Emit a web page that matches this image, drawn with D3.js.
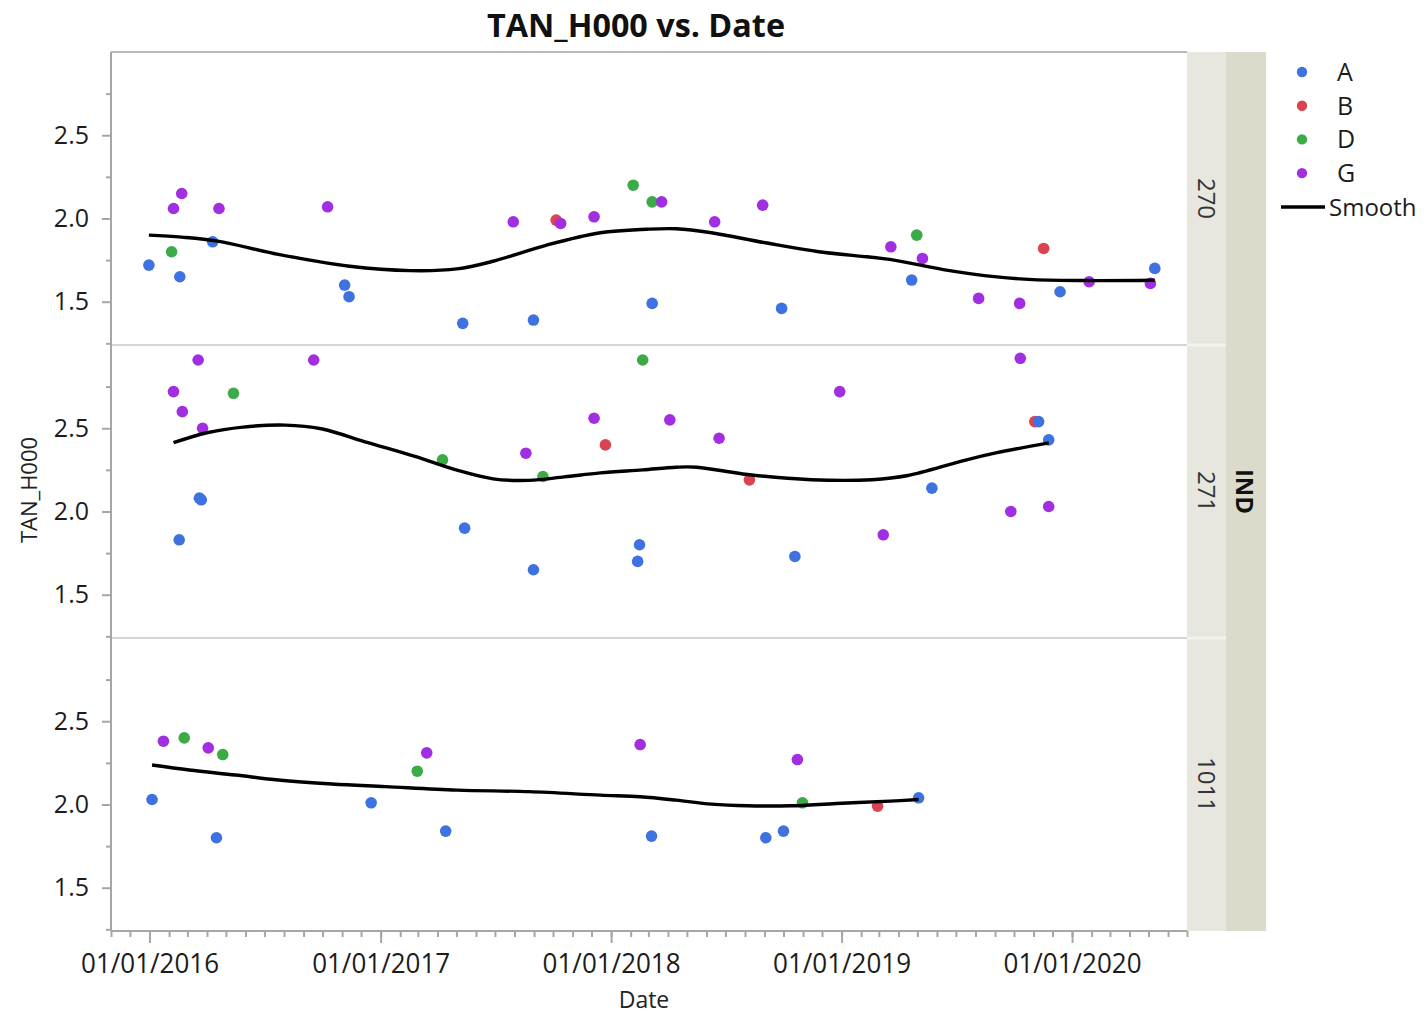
<!DOCTYPE html>
<html>
<head>
<meta charset="utf-8">
<script src="https://cdn.jsdelivr.net/npm/d3@7"></script>
<style>
  body { margin: 0; background: #fff; }
  svg text { font-family: "Open Sans", "Noto Sans", sans-serif; }
</style>
</head>
<body>
<svg id="chart" width="1427" height="1014"></svg>
<script>
// ---- data ----
const groups = ["A", "B", "D", "G"];
const groupColors = ["#3d72e0", "#da4450", "#3aab47", "#a22ee2"];
const panelLabels = ["270", "271", "1011"];
const outerLabel = "IND";
const yMajorTicks = [1.5, 2.0, 2.5];
const yMinorTicks = [1.25, 1.75, 2.25, 2.75];
const xDomain = ["2015-11-01", "2020-07-01"];

// [date, TAN_H000, group]
const points270 = [
  ["2015-12-31", 1.72, "A"], ["2016-02-08", 2.06, "G"], ["2016-02-21", 2.15, "G"],
  ["2016-02-05", 1.80, "D"], ["2016-02-18", 1.65, "A"], ["2016-04-10", 1.86, "A"],
  ["2016-04-20", 2.06, "G"], ["2016-10-09", 2.07, "G"], ["2016-11-05", 1.60, "A"],
  ["2016-11-12", 1.53, "A"], ["2017-05-11", 1.37, "A"], ["2017-08-31", 1.39, "A"],
  ["2017-07-30", 1.98, "G"], ["2017-10-06", 1.99, "B"], ["2017-10-13", 1.97, "G"],
  ["2017-12-05", 2.01, "G"], ["2018-02-05", 2.20, "D"], ["2018-03-07", 2.10, "D"],
  ["2018-03-07", 1.49, "A"], ["2018-03-22", 2.10, "G"], ["2018-06-14", 1.98, "G"],
  ["2018-08-29", 2.08, "G"], ["2018-09-28", 1.46, "A"], ["2019-03-20", 1.83, "G"],
  ["2019-04-30", 1.90, "D"], ["2019-05-09", 1.76, "G"], ["2019-04-22", 1.63, "A"],
  ["2019-08-06", 1.52, "G"], ["2019-10-10", 1.49, "G"], ["2019-11-17", 1.82, "B"],
  ["2019-12-13", 1.56, "A"], ["2020-01-28", 1.62, "G"], ["2020-05-11", 1.70, "A"],
  ["2020-05-04", 1.61, "G"]
];
const points271 = [
  ["2016-03-18", 2.91, "G"], ["2016-09-17", 2.91, "G"], ["2016-02-08", 2.72, "G"],
  ["2016-05-13", 2.71, "D"], ["2016-02-22", 2.60, "G"], ["2016-03-25", 2.50, "G"],
  ["2016-03-20", 2.08, "A"], ["2016-03-23", 2.07, "A"], ["2016-02-17", 1.83, "A"],
  ["2017-04-09", 2.31, "D"], ["2017-05-14", 1.90, "A"], ["2017-08-19", 2.35, "G"],
  ["2017-09-15", 2.21, "D"], ["2017-08-31", 1.65, "A"], ["2017-12-05", 2.56, "G"],
  ["2017-12-23", 2.40, "B"], ["2018-02-20", 2.91, "D"], ["2018-02-15", 1.80, "A"],
  ["2018-02-12", 1.70, "A"], ["2018-04-04", 2.55, "G"], ["2018-06-21", 2.44, "G"],
  ["2018-08-08", 2.19, "B"], ["2018-10-19", 1.73, "A"], ["2018-12-29", 2.72, "G"],
  ["2019-03-08", 1.86, "G"], ["2019-05-24", 2.14, "A"], ["2019-10-11", 2.92, "G"],
  ["2019-09-26", 2.00, "G"], ["2019-11-03", 2.54, "B"], ["2019-11-09", 2.54, "A"],
  ["2019-11-25", 2.43, "A"], ["2019-11-25", 2.03, "G"]
];
const points1011 = [
  ["2016-01-05", 2.03, "A"], ["2016-01-23", 2.38, "G"], ["2016-02-25", 2.40, "D"],
  ["2016-04-03", 2.34, "G"], ["2016-04-26", 2.30, "D"], ["2016-04-16", 1.80, "A"],
  ["2016-12-17", 2.01, "A"], ["2017-02-28", 2.20, "D"], ["2017-03-15", 2.31, "G"],
  ["2017-04-14", 1.84, "A"], ["2018-02-16", 2.36, "G"], ["2018-03-06", 1.81, "A"],
  ["2018-10-23", 2.27, "G"], ["2018-10-31", 2.01, "D"], ["2018-09-03", 1.80, "A"],
  ["2018-10-01", 1.84, "A"], ["2019-02-27", 1.99, "B"], ["2019-05-03", 2.04, "A"]
];

// smoother fits, [date, fitted value]
const smooth270 = [
  ["2015-12-31", 1.900], ["2016-02-21", 1.888], ["2016-04-18", 1.864], ["2016-07-23", 1.784],
  ["2016-11-13", 1.713], ["2017-02-17", 1.687], ["2017-05-02", 1.697], ["2017-06-28", 1.743],
  ["2017-09-21", 1.840], ["2017-12-15", 1.914], ["2018-02-26", 1.935], ["2018-04-14", 1.938],
  ["2018-06-09", 1.914], ["2018-09-02", 1.854], ["2018-11-26", 1.800], ["2019-03-18", 1.754],
  ["2019-06-11", 1.693], ["2019-09-04", 1.649], ["2019-10-31", 1.633], ["2020-01-23", 1.627],
  ["2020-05-11", 1.629]
];
const smooth271 = [
  ["2016-02-08", 2.413], ["2016-04-01", 2.473], ["2016-05-28", 2.507], ["2016-08-03", 2.519],
  ["2016-09-29", 2.497], ["2016-12-12", 2.413], ["2017-02-23", 2.332], ["2017-05-02", 2.248],
  ["2017-06-28", 2.196], ["2017-08-24", 2.187], ["2017-10-19", 2.208], ["2017-12-15", 2.232],
  ["2018-02-20", 2.250], ["2018-04-14", 2.266], ["2018-05-17", 2.266], ["2018-08-05", 2.222],
  ["2018-11-14", 2.191], ["2019-02-18", 2.191], ["2019-04-16", 2.216], ["2019-07-10", 2.302],
  ["2019-09-04", 2.353], ["2019-11-25", 2.412]
];
const smooth1011 = [
  ["2016-01-05", 2.237], ["2016-03-04", 2.207], ["2016-05-16", 2.177], ["2016-07-23", 2.147],
  ["2016-10-16", 2.123], ["2017-01-09", 2.107], ["2017-05-02", 2.086], ["2017-08-24", 2.077],
  ["2017-12-15", 2.056], ["2018-02-16", 2.046], ["2018-04-14", 2.026], ["2018-06-09", 2.002],
  ["2018-08-05", 1.992], ["2018-10-12", 1.992], ["2018-12-24", 2.006], ["2019-03-19", 2.020],
  ["2019-05-03", 2.030]
];

const panelPoints = [points270, points271, points1011];
const panelSmooth = [smooth270, smooth271, smooth1011];

// ---- layout ----
const parse = d3.timeParse("%Y-%m-%d");
const plotLeft = 111, plotRight = 1187, plotTop = 52, panelH = 293;
const plotBottom = plotTop + panelH * 3;
const svg = d3.select("#chart");
const color = d3.scaleOrdinal().domain(groups).range(groupColors);

const x = d3.scaleTime()
  .domain(xDomain.map(parse))
  .range([plotLeft, plotRight]);

// title
svg.append("text")
  .attr("x", 636).attr("y", 37)
  .attr("text-anchor", "middle")
  .attr("font-size", 32).attr("font-weight", 700).attr("fill", "#111")
  .attr("textLength", 298).attr("lengthAdjust", "spacingAndGlyphs")
  .text("TAN_H000 vs. Date");

// panel frame lines
svg.append("line")
  .attr("x1", plotLeft).attr("x2", plotRight)
  .attr("y1", plotTop).attr("y2", plotTop)
  .attr("stroke", "#b9b9b9").attr("stroke-width", 2);

const panels = panelPoints.map((pts, i) => {
  const y0 = plotTop + i * panelH;
  const y = d3.scaleLinear().domain([1.24, 3.0]).range([y0 + panelH, y0]);
  return { y, y0, pts, smooth: panelSmooth[i], label: panelLabels[i] };
});

// separators between panels
panels.slice(1).forEach(p => {
  svg.append("line")
    .attr("x1", plotLeft).attr("x2", plotRight)
    .attr("y1", p.y0).attr("y2", p.y0)
    .attr("stroke", "#d6d6d6").attr("stroke-width", 2);
});

// y axes
panels.forEach(p => {
  const gMinor = svg.append("g").attr("transform", `translate(${plotLeft},0)`)
    .call(d3.axisLeft(p.y).tickValues(yMinorTicks).tickSize(5).tickFormat(""));
  const gMajor = svg.append("g").attr("transform", `translate(${plotLeft},0)`)
    .call(d3.axisLeft(p.y).tickValues(yMajorTicks).tickSize(9).tickSizeOuter(0)
      .tickPadding(13).tickFormat(d3.format(".1f")));
  [gMinor, gMajor].forEach(g => {
    g.select(".domain").remove();
    g.selectAll(".tick line").attr("stroke", "#a6a6a6").attr("stroke-width", 2);
  });
  gMajor.selectAll(".tick text")
    .attr("font-size", 25).attr("fill", "#1c1c1c")
    .attr("font-family", "'Open Sans', sans-serif");
});

svg.append("line")
  .attr("x1", plotLeft).attr("x2", plotLeft)
  .attr("y1", plotTop).attr("y2", plotBottom)
  .attr("stroke", "#a6a6a6").attr("stroke-width", 2);

// x axis
const gxMinor = svg.append("g").attr("transform", `translate(0,${plotBottom})`)
  .call(d3.axisBottom(x).ticks(d3.timeMonth.every(1)).tickSize(6).tickFormat(""));
const gxMajor = svg.append("g").attr("transform", `translate(0,${plotBottom})`)
  .call(d3.axisBottom(x).ticks(d3.timeYear.every(1)).tickSize(12).tickSizeOuter(0)
    .tickPadding(10).tickFormat(d3.timeFormat("%m/%d/%Y")));
[gxMinor, gxMajor].forEach(g => {
  g.select(".domain").remove();
  g.selectAll(".tick line").attr("stroke", "#a6a6a6").attr("stroke-width", 2);
});
gxMajor.selectAll(".tick text")
  .attr("font-size", 28).attr("fill", "#1c1c1c")
  .attr("font-family", "'Open Sans', sans-serif")
  .attr("textLength", 138).attr("lengthAdjust", "spacingAndGlyphs");

svg.append("line")
  .attr("x1", plotLeft).attr("x2", plotRight)
  .attr("y1", plotBottom).attr("y2", plotBottom)
  .attr("stroke", "#a6a6a6").attr("stroke-width", 2);

// axis titles
svg.append("text")
  .attr("x", 644).attr("y", 1008)
  .attr("text-anchor", "middle").attr("font-size", 23).attr("fill", "#222")
  .text("Date");
svg.append("text")
  .attr("transform", "translate(37,490) rotate(-90)")
  .attr("text-anchor", "middle").attr("font-size", 22).attr("fill", "#222")
  .text("TAN_H000");

// points and smoothers
const line = d3.line()
  .x(d => x(parse(d[0])))
  .curve(d3.curveCatmullRom.alpha(0.5));

panels.forEach(p => {
  const g = svg.append("g");
  g.selectAll("circle")
    .data(p.pts)
    .join("circle")
    .attr("cx", d => x(parse(d[0])))
    .attr("cy", d => p.y(d[1]))
    .attr("r", 5.8)
    .attr("fill", d => color(d[2]));
  g.append("path")
    .datum(p.smooth)
    .attr("d", line.y(d => p.y(d[1])))
    .attr("fill", "none")
    .attr("stroke", "#000")
    .attr("stroke-width", 3.4);
});

// strips on the right
const stripInnerX = plotRight, stripInnerW = 39, stripOuterW = 40;
svg.append("rect")
  .attr("x", stripInnerX).attr("y", plotTop)
  .attr("width", stripInnerW).attr("height", panelH * 3)
  .attr("fill", "#e7e7df");
svg.append("rect")
  .attr("x", stripInnerX + stripInnerW).attr("y", plotTop)
  .attr("width", stripOuterW).attr("height", panelH * 3)
  .attr("fill", "#dcdbcb");
panels.forEach((p, i) => {
  if (i > 0) {
    svg.append("line")
      .attr("x1", stripInnerX).attr("x2", stripInnerX + stripInnerW)
      .attr("y1", p.y0).attr("y2", p.y0)
      .attr("stroke", "#f3f3ef").attr("stroke-width", 3);
  }
  svg.append("text")
    .attr("transform", `translate(${stripInnerX + 11},${p.y0 + panelH / 2}) rotate(90)`)
    .attr("text-anchor", "middle").attr("font-size", 24).attr("fill", "#333")
    .text(p.label);
});
svg.append("text")
  .attr("transform", `translate(${stripInnerX + stripInnerW + 10},${plotTop + panelH * 1.5}) rotate(90)`)
  .attr("text-anchor", "middle").attr("font-size", 24).attr("font-weight", 700).attr("fill", "#111")
  .text(outerLabel);

// legend
const legend = svg.append("g");
groups.forEach((gname, i) => {
  const ly = 72 + i * 33.7;
  legend.append("circle")
    .attr("cx", 1302).attr("cy", ly).attr("r", 5.2)
    .attr("fill", color(gname));
  legend.append("text")
    .attr("x", 1337).attr("y", ly + 9)
    .attr("font-size", 25).attr("fill", "#1c1c1c")
    .text(gname);
});
legend.append("line")
  .attr("x1", 1281).attr("x2", 1325)
  .attr("y1", 207).attr("y2", 207)
  .attr("stroke", "#000").attr("stroke-width", 3.4);
legend.append("text")
  .attr("x", 1329).attr("y", 216)
  .attr("font-size", 24).attr("fill", "#1c1c1c")
  .text("Smooth");
</script>
</body>
</html>
